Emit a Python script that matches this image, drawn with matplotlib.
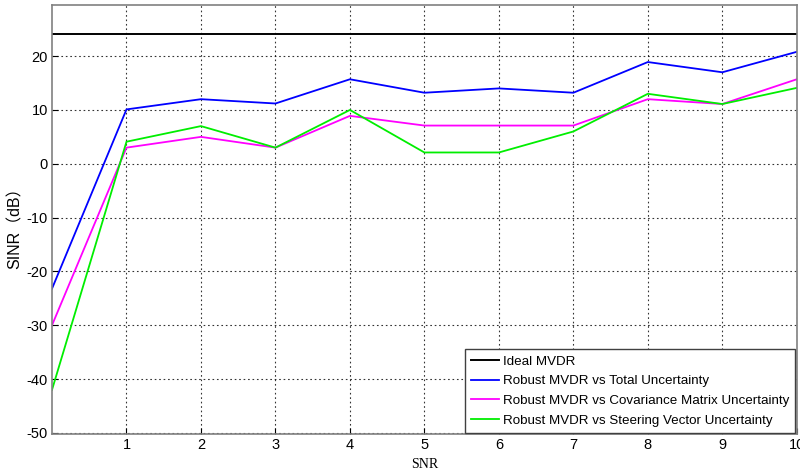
import matplotlib
matplotlib.use("Agg")
import matplotlib.pyplot as plt

snr = [0, 1, 2, 3, 4, 5, 6, 7, 8, 9, 10]
ideal = [24.2] * 11
total_unc = [-23.2, 10.1, 12.0, 11.2, 15.7, 13.2, 14.0, 13.2, 18.9, 17.0, 20.8]
cov_unc = [-30.0, 3.0, 5.0, 3.0, 8.9, 7.1, 7.1, 7.1, 12.0, 11.1, 15.7]
steer_unc = [-42.0, 4.1, 7.0, 3.0, 10.0, 2.1, 2.1, 6.0, 13.0, 11.1, 14.1]
labels = ["Ideal MVDR",
          "Robust MVDR vs Total Uncertainty",
          "Robust MVDR vs Covariance Matrix Uncertainty",
          "Robust MVDR vs Steering Vector Uncertainty"]
xticks = [1, 2, 3, 4, 5, 6, 7, 8, 9, 10]
yticks = [-50, -40, -30, -20, -10, 0, 10, 20]

plt.rcParams['font.family'] = ['Liberation Sans', 'DejaVu Sans']
plt.rcParams['axes.unicode_minus'] = False

fig = plt.figure(figsize=(8, 4.71), dpi=100)
ax = fig.add_axes([0.065, 0.0786, 0.931, 0.9108])

ax.plot(snr, ideal, color='black', lw=1.4, label=labels[0])
ax.plot(snr, total_unc, color='#0000ff', lw=1.3, label=labels[1])
ax.plot(snr, cov_unc, color='#ff00ff', lw=1.3, label=labels[2])
ax.plot(snr, steer_unc, color='#00ee00', lw=1.3, label=labels[3])

ax.set_xlim(0, 10)
ax.set_ylim(-50.2, 29.5)
ax.set_xticks(xticks)
ax.set_yticks(yticks)
ax.tick_params(direction='in', length=4, labelsize=10.5, colors='black', pad=3)
ax.grid(True, color='black', linestyle=(0, (1.5, 2.5)), lw=0.8, alpha=0.8)
for s in ax.spines.values():
    s.set_color('#808080')
    s.set_linewidth(1.2)

ax.set_xlabel("SNR", family=['Liberation Serif'], fontsize=10, labelpad=4)
ax.set_ylabel("SINR（dB）", family=['Liberation Sans', 'Noto Sans CJK SC'], fontsize=11.5)
ax.yaxis.set_label_coords(-0.039, 0.49)

leg = ax.legend(loc='lower right', fontsize=9.6, fancybox=False, framealpha=1,
                edgecolor='#404040', borderaxespad=0.1, handlelength=2.1,
                handletextpad=0.3, labelspacing=0.55, borderpad=0.45)
leg.get_frame().set_linewidth(1.0)

fig.savefig("out.png", dpi=100)
